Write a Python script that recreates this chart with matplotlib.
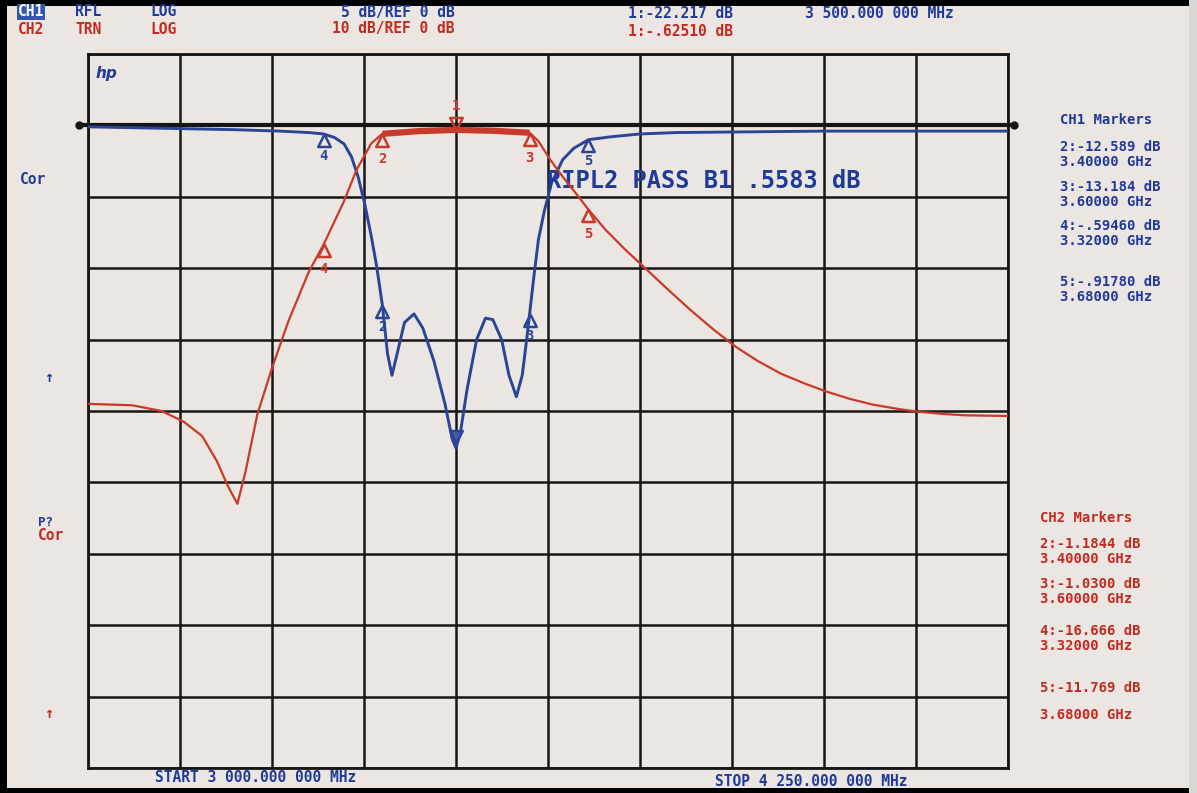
import numpy as np
import matplotlib.pyplot as plt
from matplotlib.path import Path
from matplotlib.patches import Rectangle

# frequencies in MHz, levels in dB
f_start, f_stop = 3000, 4250

ch1_freq = [3000, 3100, 3200, 3260, 3300, 3320, 3335, 3348, 3358, 3367, 3376, 3385, 3392,
            3400, 3407, 3413, 3420, 3430, 3443, 3455, 3470, 3485, 3495, 3500, 3506,
            3515, 3528, 3540, 3550, 3562, 3572, 3582, 3590, 3596, 3600, 3606, 3612,
            3620, 3630, 3645, 3660, 3680, 3710, 3750, 3800, 3900, 4000, 4100, 4250]
ch1_db = [-0.1, -0.2, -0.3, -0.4, -0.5, -0.6, -0.85, -1.3, -2.2, -3.6, -5.5, -7.8, -9.8,
          -12.6, -16.0, -17.5, -16.0, -13.8, -13.2, -14.2, -16.5, -19.5, -22.0, -22.6, -21.5,
          -18.5, -15.0, -13.5, -13.6, -15.0, -17.5, -19.0, -17.5, -15.0, -13.2, -10.5, -8.0,
          -6.0, -4.0, -2.4, -1.6, -1.0, -0.8, -0.6, -0.5, -0.45, -0.4, -0.4, -0.4]

ch2_freq = [3000, 3060, 3100, 3130, 3155, 3175, 3190, 3203, 3214, 3230, 3250, 3272, 3300,
            3320, 3347, 3365, 3385, 3400, 3450, 3500, 3550, 3600, 3612, 3628, 3645, 3662,
            3680, 3703, 3730, 3755, 3785, 3818, 3850, 3880, 3910, 3942, 3975, 4004, 4035,
            4066, 4100, 4128, 4160, 4190, 4250]
ch2_db = [-39.0, -39.2, -40.0, -41.5, -43.5, -47.0, -50.5, -53.0, -48.5, -40.5, -34.0, -27.5,
          -20.5, -16.7, -10.8, -6.2, -2.5, -1.18, -0.8, -0.63, -0.75, -1.03, -2.2, -4.8, -7.2,
          -9.4, -11.8, -14.6, -17.4, -19.8, -22.7, -25.8, -28.6, -31.0, -33.0, -34.8, -36.2,
          -37.3, -38.3, -39.1, -39.7, -40.1, -40.4, -40.6, -40.7]

mk_freq = [3500, 3400, 3600, 3320, 3680]
mk_ch1 = [-22.217, -12.589, -13.184, -0.5946, -0.9178]
mk_ch2 = [-0.6251, -1.1844, -1.0300, -16.666, -11.769]
mk_ch1_txt = ['-22.217', '-12.589', '-13.184', '-.59460', '-.91780']
mk_ch2_txt = ['-.62510', '-1.1844', '-1.0300', '-16.666', '-11.769']

BLUE = '#2a4597'
TBLUE = '#1f3a99'
RED = '#c83a2a'
TRED = '#c22a20'
BG = '#ebe6e1'
W, H = 1197, 793
MONO = 'DejaVu Sans Mono'

fig = plt.figure(figsize=(W / 100, H / 100), dpi=100, facecolor=BG)
ax = fig.add_axes([88 / W, 1 - 768 / H, 920 / W, 714 / H])
ax.set_facecolor(BG)
ax.set_xlim(f_start, f_stop)
ax.set_ylim(-45, 5)
ax.set_xticks(np.linspace(f_start, f_stop, 11))
ax.set_yticks(np.arange(-45, 6, 5))
ax.grid(color='#161616', lw=1.8)
ax.tick_params(length=0, labelbottom=False, labelleft=False)
for s in ax.spines.values():
    s.set_color('#161616')
    s.set_linewidth(2)

ax2 = ax.twinx()
ax2.set_ylim(-90, 10)
ax2.axis('off')

# reference line
ax.plot([f_start - 12, f_stop + 8], [0, 0], color='#151515', lw=3, marker='o',
        markersize=5, clip_on=False, zorder=3)

ax.plot(ch1_freq, ch1_db, color=BLUE, lw=2.1, zorder=4)
ax2.plot(ch2_freq, ch2_db, color=RED, lw=1.6, zorder=4)
pb = [i for i, f in enumerate(ch2_freq) if 3400 <= f <= 3600]
ax2.plot([ch2_freq[i] for i in pb], [ch2_db[i] for i in pb], color=RED, lw=4.5,
         solid_capstyle='butt', zorder=4)

up = Path([(0, 0), (-0.5, -1), (0.5, -1), (0, 0)])
down = Path([(0, 0), (-0.5, 1), (0.5, 1), (0, 0)])

for i in range(1, 5):
    ax.plot(mk_freq[i], mk_ch1[i], marker=up, markersize=18, mfc='none', mec=BLUE,
            mew=1.8, zorder=5)
    ax.annotate(str(i + 1), (mk_freq[i], mk_ch1[i]), xytext=(0, -16),
                textcoords='offset points', ha='center', va='center', color=BLUE,
                fontsize=10, fontweight='bold', family=MONO)
    ax2.plot(mk_freq[i], mk_ch2[i], marker=up, markersize=18, mfc='none', mec=RED,
             mew=1.8, zorder=5)
    ax2.annotate(str(i + 1), (mk_freq[i], mk_ch2[i]), xytext=(0, -18),
                 textcoords='offset points', ha='center', va='center', color=RED,
                 fontsize=10, fontweight='bold', family=MONO)

ax.plot(mk_freq[0], mk_ch1[0], marker=down, markersize=18, mfc='#4a5aa0', mec=BLUE,
        mew=1.8, zorder=5)
ax2.plot(mk_freq[0], mk_ch2[0], marker=down, markersize=18, mfc='none', mec=RED,
         mew=1.8, zorder=5)
ax2.annotate('1', (mk_freq[0], mk_ch2[0]), xytext=(0, 17), textcoords='offset points',
             ha='center', va='center', color=RED, fontsize=10, fontweight='bold',
             family=MONO)

ax.text(3624, -3.9, 'RIPL2 PASS B1 .5583 dB', color=TBLUE, fontsize=17,
        fontweight='bold', family=MONO, va='center', zorder=6)
ax.text(3010, 3.6, 'hp', color=TBLUE, fontsize=11, fontstyle='italic',
        fontweight='bold', va='center')


def ftxt(x, y, s, color, size=10.5, ha='left', **kw):
    fig.text(x / W, 1 - y / H, s, color=color, fontsize=size, ha=ha, va='center',
             fontweight='bold', family=MONO, **kw)


# header
ftxt(18, 12, 'CH1', 'white', bbox=dict(boxstyle='square,pad=0.05', fc='#3455b0', ec='none'))
ftxt(75, 12, 'RFL', TBLUE)
ftxt(150, 12, 'LOG', TBLUE)
ftxt(455, 12, '5 dB/REF 0 dB', TBLUE, ha='right')
ftxt(18, 29, 'CH2', TRED)
ftxt(75, 29, 'TRN', TRED)
ftxt(150, 29, 'LOG', TRED)
ftxt(455, 29, '10 dB/REF 0 dB', TRED, ha='right')
ftxt(628, 14, '1:' + mk_ch1_txt[0] + ' dB', TBLUE)
ftxt(805, 14, '3 500.000 000 MHz', TBLUE)
ftxt(628, 31, '1:' + mk_ch2_txt[0] + ' dB', TRED)

# marker tables
ftxt(1060, 120, 'CH1 Markers', TBLUE, size=10)
ch1_rows = [147, 187, 226, 282]
for k, y in enumerate(ch1_rows):
    ftxt(1060, y, f'{k + 2}:{mk_ch1_txt[k + 1]} dB', TBLUE, size=10)
    ftxt(1060, y + 15, f'{mk_freq[k + 1] / 1000:.5f} GHz', TBLUE, size=10)

ftxt(1040, 518, 'CH2 Markers', TRED, size=10)
ch2_rows = [544, 584, 631, 688]
for k, y in enumerate(ch2_rows):
    ftxt(1040, y, f'{k + 2}:{mk_ch2_txt[k + 1]} dB', TRED, size=10)
    ftxt(1040, y + (27 if k == 3 else 15), f'{mk_freq[k + 1] / 1000:.5f} GHz', TRED,
         size=10)

# left annotations
ftxt(20, 180, 'Cor', TBLUE, size=10.5)
ftxt(44, 378, '↑', TBLUE, size=11)
ftxt(38, 522, 'P?', TBLUE, size=9)
ftxt(38, 536, 'Cor', TRED, size=10.5)
ftxt(44, 713, '↑', TRED, size=11)

# footer
ftxt(155, 778, 'START 3 000.000 000 MHz', TBLUE, size=10.5)
ftxt(715, 782, 'STOP 4 250.000 000 MHz', TBLUE, size=10.5)

# bezel (dark on top, left and bottom)
for rect in [(0, 1 - 6 / H, 1, 6 / H), (0, 0, 7 / W, 1), (0, 0, 1, 5 / H)]:
    fig.patches.append(Rectangle(rect[:2], rect[2], rect[3], transform=fig.transFigure,
                                 fc='black', ec='none'))
fig.patches.append(Rectangle((1 - 8 / W, 0), 8 / W, 1, transform=fig.transFigure,
                             fc='#d9d6d6', ec='none'))

fig.savefig('out.png', dpi=100, facecolor=BG)
